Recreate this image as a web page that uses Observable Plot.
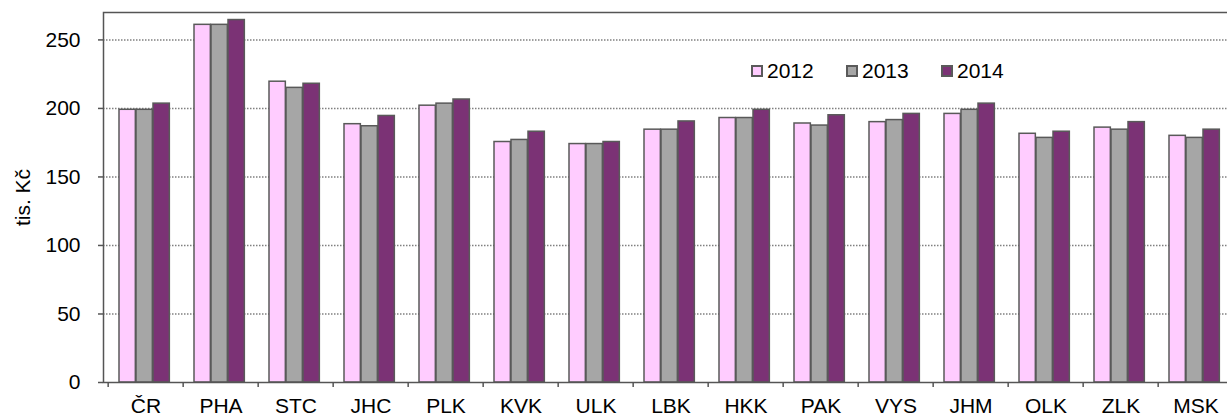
<!DOCTYPE html>
<html>
<head>
<meta charset="utf-8">
<script src="https://cdn.jsdelivr.net/npm/d3@7"></script>
<script src="https://cdn.jsdelivr.net/npm/@observablehq/plot@0.6"></script>
<style>
  html, body { margin: 0; padding: 0; background: #fff; overflow: hidden; width: 1227px; height: 418px; }
  #wrap { position: relative; width: 1227px; height: 418px; overflow: hidden; }
  #chart svg { max-width: none !important; display: block; }
  #legend { position: absolute; top: 60px; left: 751px; font: 21px/21px "Liberation Sans", Arial, sans-serif; color: #000; display: flex; }
  #legend .item { display: flex; align-items: center; width: 95px; }
  #legend .sw { width: 8px; height: 8px; border: 2px solid #5a5a5a; margin-right: 4px; }
</style>
</head>
<body>
<div id="wrap"><div id="chart"></div><div id="legend"></div></div>
<script>
const regions = ["ČR","PHA","STC","JHC","PLK","KVK","ULK","LBK","HKK","PAK","VYS","JHM","OLK","ZLK","MSK"];
const years = ["2012","2013","2014"];
const v2012 = [199, 261, 219.5, 188.5, 202, 175.5, 174, 184.5, 193, 189, 190, 196, 181.5, 186, 180];
const v2013 = [199, 261, 215, 187, 203.5, 177, 174, 184.5, 193, 187.5, 191.5, 199, 178.5, 184.5, 178.5];
const v2014 = [203.5, 264.5, 218, 194.5, 206.5, 183, 175.5, 190.5, 199, 195, 196, 203.5, 183, 190, 184.5];
const colors = ["#FFCCFF", "#A6A6A6", "#7B3275"];
const yTicks = [0, 50, 100, 150, 200, 250];
const gridTicks = [50, 100, 150, 200, 250];

const series = [v2012, v2013, v2014];
const rows = series.map(vals => regions.map((r, i) => ({region: r, value: vals[i]})));

const width = 1227, marginLeft = 103, marginRight = -11;
const bw = (width - marginLeft - marginRight) / regions.length;
const barW = 17, firstOff = 11;

const barMarks = rows.map((data, k) => Plot.barY(data, {
  x: "region", y: "value",
  fill: colors[k], stroke: "#595959", strokeWidth: 1.5,
  insetLeft: firstOff + k * barW,
  insetRight: bw - firstOff - (k + 1) * barW
}));

const chart = Plot.plot({
  width, height: 418,
  marginLeft, marginRight, marginTop: 12, marginBottom: 36,
  style: {fontFamily: '"Liberation Sans", Arial, sans-serif', fontSize: "21px", color: "#000", background: "#fff", maxWidth: "none"},
  x: {domain: regions, padding: 0},
  y: {domain: [0, 270]},
  marks: [
    Plot.ruleY(gridTicks, {stroke: "#808080", strokeWidth: 1.5, strokeDasharray: "1.5,1.5"}),
    ...barMarks,
    Plot.frame({stroke: "#555", strokeWidth: 1.5}),
    Plot.axisY({ticks: yTicks, tickSize: 5, tickPadding: 18, stroke: "#555", strokeWidth: 1.5,
      label: "tis. Kč", labelAnchor: "center", labelArrow: "none", labelOffset: 88, fontSize: 21}),
    Plot.axisX({tickSize: 5, text: null, dx: -bw / 2, stroke: "#555", strokeWidth: 1.5, label: null}),
    Plot.axisX({tickSize: 0, tickPadding: 16, label: null, fontSize: 21})
  ]
});
document.getElementById("chart").appendChild(chart);

const legend = document.getElementById("legend");
years.forEach((y, k) => {
  const item = document.createElement("div");
  item.className = "item";
  const sw = document.createElement("div");
  sw.className = "sw";
  sw.style.background = colors[k];
  item.appendChild(sw);
  const t = document.createElement("span");
  t.textContent = y;
  item.appendChild(t);
  legend.appendChild(item);
});
</script>
</body>
</html>
